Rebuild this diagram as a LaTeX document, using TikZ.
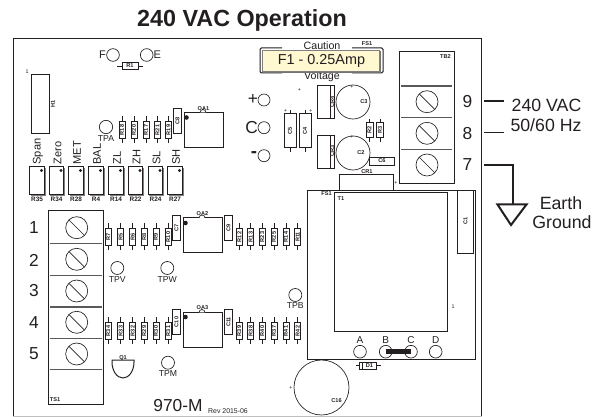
\documentclass[tikz,border=0pt]{standalone}
\usepackage{fontspec}
\setmainfont{Liberation Sans}
\definecolor{ink}{HTML}{231F20}
\definecolor{fusefill}{HTML}{FFF8D0}
\tikzset{
 x=0.75pt,y=-0.75pt,
 every path/.style={color=ink},
 every node/.style={text=ink,inner sep=0pt,outer sep=0pt},
 lab/.style={font=\fontsize{13.3}{14}\selectfont},
 num/.style={font=\fontsize{13}{14}\selectfont},
 mid/.style={font=\fontsize{8.3}{9}\selectfont},
 sm/.style={font=\fontsize{8}{9}\selectfont},
 tp/.style={font=\fontsize{6.5}{7}\selectfont},
 tiny/.style={font=\bfseries\fontsize{4.2}{5}\selectfont},
 mini/.style={font=\fontsize{4}{4}\selectfont},
 thinl/.style={line width=0.5pt},
 med/.style={line width=0.75pt},
 divl/.style={line width=0.8pt,color=black!65},
 heavy/.style={line width=1.5pt},
 pad/.style={circle,draw,line width=0.5pt,minimum size=9.5pt},
 body/.style={draw,thinl,fill=white},
}
\newcommand{\vres}[3]{% x, y center, label
 \draw[thinl] (#1,#2-13.5)--(#1,#2+13.5);
 \node[body,minimum width=4.5pt,minimum height=13pt] at (#1,#2) {};
 \node[tiny,rotate=90] at (#1,#2) {#3};}
\newcommand{\pot}[3]{% x left, label, top label
 \draw[line width=0.7pt,color=black!50] (#1+15.5,168)--(#1+15.5,195.5)--(#1+1,195.5);
 \draw[med,fill=white] (#1,167) rectangle (#1+14.5,195);
 \fill (#1+12,170.5) circle (1.6);
 \node[font=\bfseries\fontsize{4.8}{5}\selectfont] at (#1+7.5,199.5) {#2};
 \node[mid,rotate=90,anchor=west] at (#1+8.5,164.5) {#3};}
\newcommand{\screw}[2]{%
 \draw[thinl] (#1,#2) circle (11);
 \draw[thinl] (#1-7.8,#2-7.8)--(#1+7.8,#2+7.8);}
\newcommand{\cbox}[3]{% vertical box cap
 \node[draw,med,fill=white,minimum width=6pt,minimum height=19pt] at (#1,#2) {};
 \node[tiny,rotate=90] at (#1,#2) {#3};}
\begin{document}
\begin{tikzpicture}
\useasboundingbox (0,0) rectangle (604,417);
% board
\draw[med] (13,416) -- (13,38.5) -- (481.5,38.5) -- (481.5,416);
\draw[line width=0.4pt,color=gray!50] (13,416)--(481.5,416);
\node[font=\bfseries\fontsize{17.5}{18}\selectfont] (title) at (242,20) {240 VAC Operation};
% F E
\node[pad] (pf) at (113,55) {};
\node[pad] (pe) at (146.7,55) {};
\node[mid,anchor=east] at (106,55) {F};
\node[mid,anchor=west] at (153.5,55) {E};
\draw[thinl] (117,66)--(143,66);
\node[body,minimum width=12pt,minimum height=5pt] at (130,66) {};
\node[tiny] at (130,66) {R1};
% H1
\node[mini] at (27,72) {1};
\draw[thinl] (31.5,74.5) rectangle (49.5,133);
\node[tiny,rotate=90] at (53,104) {H1};
% TPA and resistors
\node[pad,minimum size=10pt] (tpa) at (106,127) {};
\node[tp] at (106,139) {TPA};
\vres{122}{130}{R18}\vres{134}{130}{R20}\vres{146}{130}{R17}\vres{157.5}{130}{R21}\vres{168.5}{130}{R19}
\cbox{177.5}{121}{C8}
% OA1
\draw[med] (184,112.5) rectangle (223,148);
\fill (186.5,117.5) circle (2.3);
\draw[thinl,fill=white] (200,112.5) arc (180:360:3);
\node[tiny] at (203.5,109) {OA1};
% pots
\pot{29.5}{R35}{Span}\pot{49}{R34}{Zero}\pot{68.5}{R28}{MET}\pot{88.5}{R4}{BAL}\pot{108.5}{R14}{ZL}\pot{128}{R22}{ZH}\pot{148}{R24}{SL}\pot{167.5}{R27}{SH}
% + C -
\node[pad,minimum size=9pt] (pp) at (264,100) {};
\node[pad,minimum size=9pt] (pc) at (264,127.7) {};
\node[pad,minimum size=9pt] (pm) at (264,155.7) {};
\node[num,anchor=east] at (258,100) {+};
\node[num,anchor=east] at (258,127.5) {C};
\node[font=\bfseries\fontsize{14}{14}\selectfont,anchor=east] at (257,154.5) {-};
% C5 C4
\draw[thinl] (290,110)--(290,152);
\node[body,minimum width=9pt,minimum height=26pt] at (290,130.5) {};
\node[tiny,rotate=90] at (290,130.5) {C5};
\draw[thinl] (305,110)--(305,152);
\node[body,minimum width=9pt,minimum height=26pt] at (305,130.5) {};
\node[tiny,rotate=90] at (305,130.5) {C4};
\node[mini] at (285.5,111) {+};
\node[mini] at (311,111) {+};
\node[mini] at (299.5,90) {+};
% fuse
\draw[med,rounded corners=1pt] (282,48)--(260,48)--(260,73)--(282,73);
\draw[med,rounded corners=1pt] (352,48)--(383,48)--(383,73)--(352,73);
\node[sm] at (322,45.5) {Caution};
\node[sm] at (322,77) {Voltage};
\node[tiny] at (367,44) {FS1};
\fill[black!55] (263.5,51.5) rectangle (381,73);
\node[draw,line width=0.4pt,draw=black!50,fill=fusefill,minimum width=88pt,minimum height=16pt] (fuse) at (320.7,60.7) {};
\node[font=\fontsize{10.8}{11}\selectfont] at (321.5,60.5) {F1 - 0.25Amp};
% CR C3 C2
\draw[thinl] (317.5,85.5) rectangle (334.5,118.5); \draw[med] (330,85.5)--(330,118.5);
\node[tiny,rotate=90] at (332.3,102) {CR4};
\draw[thinl] (317.5,135) rectangle (334.5,168); \draw[med] (330,135)--(330,168);
\node[tiny,rotate=90] at (332.3,151) {CR3};
\draw[thinl] (353,102) circle (17);
\draw[thinl] (353,153) circle (17);
\node[tiny] at (364,102) {C3};
\node[tiny] at (361,153) {C2};
\node[mini] at (352,87) {+};
\node[mini] at (352,137) {+};
\draw[thinl] (369.5,119)--(369.5,142); \draw[thinl] (380,119)--(380,142);
\node[body,minimum width=5pt,minimum height=11pt] at (369.5,130) {};
\node[body,minimum width=5pt,minimum height=11pt] at (380,130) {};
\node[tiny,rotate=90] at (369.5,130) {R2};
\node[tiny,rotate=90] at (380,130) {R3};
\node[body,minimum width=19pt,minimum height=6pt] at (382,161) {};
\node[tiny] at (382,161) {C6};
% CR1
\draw[med] (339.5,191) -- (339.5,175) -- (393.5,175) -- (393.5,191);
\node[tiny] at (367,172) {CR1};
\node[mini] at (396,183) {+};
% TB2
\draw[med] (399.5,51.5) rectangle (454,183.5);
\node[tiny] at (445.5,57) {TB2};
\draw[divl] (401,86)--(452,86);\draw[divl] (401,117.5)--(452,117.5);\draw[divl] (401,149.5)--(452,149.5);
\screw{427}{101.7}\screw{427}{133.3}\screw{427}{165}
\node[num] at (467.5,102) {9};
\node[num] at (467.5,134) {8};
\node[num] at (467.5,165) {7};
\coordinate (t9) at (484,101);\coordinate (t9e) at (504,101);
\coordinate (t8) at (484,132.5);\coordinate (t8e) at (504,132.5);
\coordinate (t7) at (484,165);\coordinate (t7b) at (512.7,165);\coordinate (t7e) at (512.7,204);
\draw[heavy] (t9)--(t9e); \draw[heavy,line width=1.2pt] (t8)--(t8e);
\draw[heavy] (t7)--(t7b)--(t7e);
\draw[heavy] (497.5,204.5)--(526.5,204.5)--(511,225)--cycle;
\node[lab] at (546.5,105) {240 VAC};
\node[lab] at (546,125) {50/60 Hz};
\node[lab] at (561,203) {Earth};
\node[lab] at (562,222) {Ground};
% power block
\draw[med] (307.5,191) rectangle (475.5,359);
\draw[med] (334,192.7) rectangle (447,331.7);
\draw[med] (457,191) rectangle (473.5,253.5);
\node[tiny,rotate=90] at (465.5,221) {C1};
\node[tiny] at (326.5,194) {FS1};
\node[tiny] at (341,199) {T1};
\node[mini] at (453,307) {1};
\node[pad] (pa) at (360,351.7) {};
\node[pad] (pb) at (385.7,351.7) {};
\node[pad] (pc2) at (411,351.7) {};
\node[pad] (pd) at (435.7,351.7) {};
\node[font=\fontsize{7.5}{8}\selectfont] at (360,340) {A};
\node[font=\fontsize{7.5}{8}\selectfont] at (385.7,340) {B};
\node[font=\fontsize{7.5}{8}\selectfont] at (411,340) {C};
\node[font=\fontsize{7.5}{8}\selectfont] at (435.7,340) {D};
\draw[line width=3.5pt] (pb.center)--(pc2.center);
% D1 C16
\draw[thinl] (356,365.7)--(381,365.7);
\node[body,minimum width=13pt,minimum height=5pt] at (368,365.7) {};
\draw[thinl] (362,362.5)--(362,369);
\node[tiny] at (369.5,365.7) {D1};
\draw[thinl] (321.5,387.5) circle (27.5);
\node[tiny] at (336.5,400.7) {C16};
\node[mini] at (291,388) {+};
% TB1
\draw[med] (48.7,210.7) rectangle (103,404.5);
\draw[divl] (50,243.3)--(101.5,243.3);\draw[divl] (50,275.7)--(101.5,275.7);\draw[divl] (50,307)--(101.5,307);\draw[divl] (50,338.3)--(101.5,338.3);\draw[divl] (50,369.7)--(101.5,369.7);
\screw{76.7}{227.7}\screw{76.7}{259.3}\screw{76.7}{291}\screw{76.7}{322.3}\screw{76.7}{354}
\node[num] at (34,228) {1};
\node[num] at (34,260) {2};
\node[num] at (34,291) {3};
\node[num] at (34,322.5) {4};
\node[num] at (34,354) {5};
\node[tiny] at (55,400) {TS1};
% row 1
\vres{108.3}{237}{R7}\vres{120.7}{237}{R5}\vres{132.7}{237}{R6}\vres{144.3}{237}{R8}\vres{156}{237}{R9}\vres{168.3}{237}{R10}
\cbox{176.5}{228}{C7}
\draw[med] (183,218) rectangle (222,253);
\fill (185.5,223) circle (2.3);
\draw[thinl,fill=white] (199,218) arc (180:360:3);
\node[tiny] at (202.5,214) {OA2};
\cbox{228.5}{228}{C9}
\vres{239.3}{237}{R12}\vres{250.7}{237}{R13}\vres{262.3}{237}{R23}\vres{274}{237}{R25}\vres{286}{237}{R14}\vres{297.7}{237}{R11}
\node[pad,minimum size=9.75pt] at (117.3,268) {};
\node[tp] at (117.3,280) {TPV};
\node[pad,minimum size=9.75pt] at (167.3,268) {};
\node[tp] at (167.3,280) {TPW};
% row 2
\vres{108.3}{331}{R34}\vres{120.7}{331}{R33}\vres{132.7}{331}{R32}\vres{144.3}{331}{R29}\vres{156}{331}{R30}\vres{168.3}{331}{R31}
\cbox{176.5}{322}{C10}
\draw[med] (183,312.5) rectangle (222,348);
\fill (185.5,317) circle (2.3);
\draw[thinl,fill=white] (199,312.5) arc (180:360:3);
\node[tiny] at (202.5,308) {OA3};
\cbox{228.5}{322}{C11}
\vres{239.3}{331}{R39}\vres{250.7}{331}{R38}\vres{262.3}{331}{R40}\vres{274}{331}{R37}\vres{286}{331}{R41}\vres{297.7}{331}{R42}
\node[pad,minimum size=9.75pt] at (295.3,295) {};
\node[tp] at (295.3,306) {TPB};
\draw[med] (112,360) -- (134,360) -- (134,362) arc (0:180:11 and 16) -- cycle;
\node[tiny] at (123,358) {Q1};
\node[pad,minimum size=9.75pt] at (168,362.7) {};
\node[tp] at (168,374) {TPM};
\node[font=\fontsize{13}{14}\selectfont] at (178,406) {970-M};
\node[font=\fontsize{5.2}{6}\selectfont] at (228,411.5) {Rev 2015-06};
\end{tikzpicture}
\end{document}
